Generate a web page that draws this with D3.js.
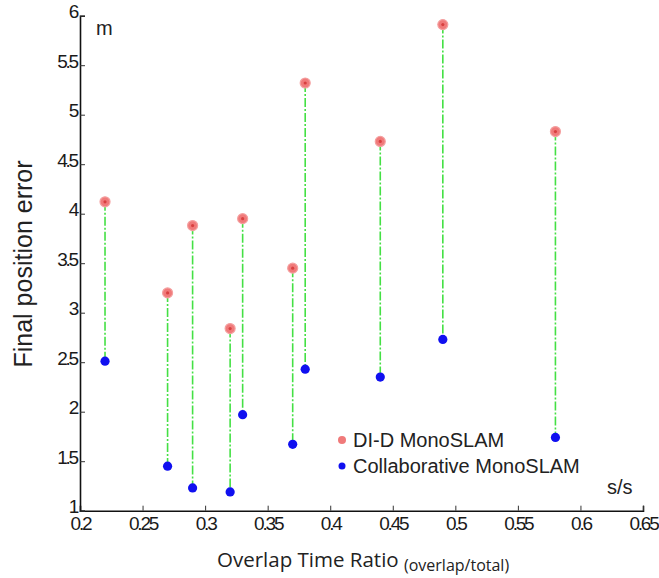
<!DOCTYPE html>
<html>
<head>
<meta charset="utf-8">
<script src="https://d3js.org/d3.v7.min.js"></script>
<style>
  html, body { margin: 0; padding: 0; background: #fff; }
  svg { display: block; }
</style>
</head>
<body>
<svg id="chart" width="659" height="578"></svg>
<script>
// Overlap ratio of each experiment and the final position error of both methods
const overlapRatio = [0.22, 0.27, 0.29, 0.32, 0.33, 0.37, 0.38, 0.44, 0.49, 0.58];
const didErrors    = [4.12, 3.20, 3.88, 2.84, 3.95, 3.45, 5.32, 4.73, 5.91, 4.83];
const collabErrors = [2.51, 1.45, 1.23, 1.19, 1.97, 1.67, 2.43, 2.35, 2.73, 1.74];
const xTicks = [0.2, 0.25, 0.3, 0.35, 0.4, 0.45, 0.5, 0.55, 0.6, 0.65];
const yTicks = [1, 1.5, 2, 2.5, 3, 3.5, 4, 4.5, 5, 5.5, 6];
const seriesNames = ["DI-D MonoSLAM", "Collaborative MonoSLAM"];

const svg = d3.select("#chart");
const x = d3.scaleLinear().domain([0.2, 0.65]).range([80, 643]);
const y = d3.scaleLinear().domain([1, 6]).range([510.7, 15.7]);

const tickFont = "'Liberation Sans', Arial, sans-serif";

// Axes: ticks point into the plot area
const xAxis = svg.append("g")
  .attr("transform", `translate(0,${y(1)})`)
  .call(d3.axisBottom(x).tickValues(xTicks).tickSize(-5).tickPadding(8).tickFormat(d3.format("")));
const yAxis = svg.append("g")
  .attr("transform", `translate(${x(0.2)},0)`)
  .call(d3.axisLeft(y).tickValues(yTicks).tickSize(-5).tickPadding(3).tickFormat(d3.format("")));

[xAxis, yAxis].forEach(g => {
  g.select(".domain").attr("stroke", "#111").attr("stroke-width", 1.6);
  g.selectAll(".tick line").attr("stroke", "#333").attr("stroke-width", 1);
  g.selectAll(".tick text")
    .attr("fill", "#1a1a1a")
    .style("font-family", tickFont)
    .style("font-size", "19px")
    .style("letter-spacing", "-2.2px");
});
xAxis.selectAll(".tick text").attr("dy", "0.6em");
yAxis.selectAll(".tick text").attr("dy", "0.1em");

const pts = overlapRatio.map((r, i) => ({ r, top: didErrors[i], bottom: collabErrors[i] }));

// Dash-dot connectors between the two methods
svg.append("g").selectAll("line").data(pts).join("line")
  .attr("x1", d => x(d.r)).attr("x2", d => x(d.r))
  .attr("y1", d => y(d.top)).attr("y2", d => y(d.bottom))
  .attr("stroke", "#44e044")
  .attr("stroke-width", 1.6)
  .attr("stroke-dasharray", "9,2,2,2");

// DI-D MonoSLAM markers
svg.append("g").selectAll("circle").data(pts).join("circle")
  .attr("cx", d => x(d.r)).attr("cy", d => y(d.top))
  .attr("r", 5)
  .attr("fill", "#f07a7a")
  .attr("stroke", "#f4a0a0").attr("stroke-width", 1.2);
svg.append("g").selectAll("circle").data(pts).join("circle")
  .attr("cx", d => x(d.r)).attr("cy", d => y(d.top))
  .attr("r", 1.6)
  .attr("fill", "#d84040");

// Collaborative MonoSLAM markers
svg.append("g").selectAll("circle").data(pts).join("circle")
  .attr("cx", d => x(d.r)).attr("cy", d => y(d.bottom))
  .attr("r", 4.6)
  .attr("fill", "#1010f0");

// Legend
const legend = svg.append("g").attr("transform", "translate(342,440)");
legend.append("circle").attr("cx", 0).attr("cy", 0).attr("r", 4).attr("fill", "#f07a7a");
legend.append("circle").attr("cx", 0).attr("cy", 26).attr("r", 3.5).attr("fill", "#1010f0");
legend.selectAll("text").data(seriesNames).join("text")
  .attr("x", 11).attr("y", (d, i) => 7 + i * 26)
  .style("font-family", "'Liberation Sans', Arial, sans-serif")
  .style("font-size", "20px")
  .attr("fill", "#222")
  .text(d => d);

// Unit labels
svg.append("text").attr("x", 96).attr("y", 35)
  .style("font-family", "'Liberation Sans', Arial, sans-serif").style("font-size", "20px")
  .attr("fill", "#222").text("m");
svg.append("text").attr("x", 607).attr("y", 494)
  .style("font-family", "'Liberation Sans', Arial, sans-serif").style("font-size", "20px")
  .attr("fill", "#222").text("s/s");

// Axis titles
const xTitle = svg.append("text").attr("x", 217).attr("y", 567)
  .style("font-family", "'Open Sans', sans-serif").attr("fill", "#222");
xTitle.append("tspan").style("font-size", "20.5px").text("Overlap Time Ratio ");
xTitle.append("tspan").style("font-size", "16px").attr("dy", 4).text("(overlap/total)");

svg.append("text")
  .attr("transform", "translate(32,264) rotate(-90)")
  .attr("text-anchor", "middle")
  .style("font-family", "'Liberation Sans', Arial, sans-serif")
  .style("font-size", "25px")
  .attr("fill", "#222")
  .text("Final position error");
</script>
</body>
</html>
